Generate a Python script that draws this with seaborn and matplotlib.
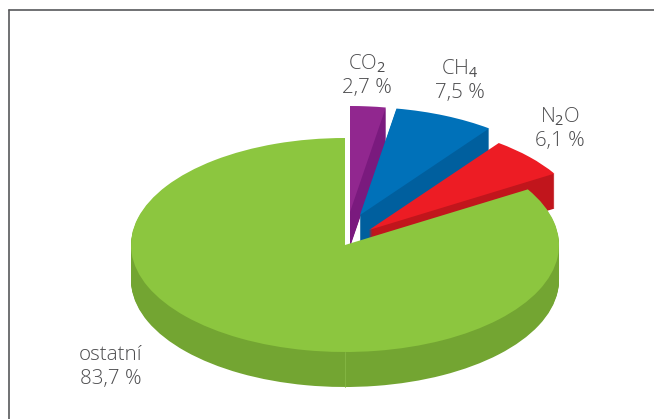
import matplotlib
matplotlib.use("Agg")
import matplotlib.pyplot as plt
from matplotlib.lines import Line2D
from matplotlib.patches import Polygon
import seaborn as sns

sns.set_theme(style="white")
plt.rcParams['font.family'] = ['Open Sans', 'DejaVu Sans']
plt.rcParams['mathtext.fontset'] = 'custom'
plt.rcParams['mathtext.rm'] = 'Open Sans'

categories = ["ostatní", "N2O", "CH4", "CO2"]
values = [83.7, 6.1, 7.5, 2.7]
labels = ["ostatní\n83,7 %", "N$_{\\mathrm{2}}$O\n6,1 %", "CH$_{\\mathrm{4}}$\n7,5 %", "CO$_{\\mathrm{2}}$\n2,7 %"]

top_colors = sns.color_palette(["#8CC63F", "#ED1C24", "#0071B9", "#91278F"])
wall_colors = sns.color_palette(["#73A532", "#C1151C", "#005F9E", "#7A1A7E"])

W, H = 654, 419
Y = lambda py: 2 * (H - py)

# apex (px) and radius of each slice in the tilted view
apex = {"ostatní": (345, 245, 214), "N2O": (369, 230, 217), "CH4": (360, 215, 216), "CO2": (350, 212, 212)}
label_pos = {"ostatní": (111, 367), "N2O": (560, 128), "CH4": (460, 80), "CO2": (367, 75)}
depth = 35

fig = plt.figure(figsize=(W / 100, H / 100), dpi=100, facecolor="white")
ax = fig.add_axes([0, 0, 1, 1])


def slice_at(value, start, color, cx, cy, r):
    wedges, _ = ax.pie([value, 100 - value], startangle=start, colors=[color, "none"],
                       center=(cx, Y(cy)), radius=r, wedgeprops={"linewidth": 0}, normalize=True)
    return wedges[0]


starts = {}
a = 90.0
for c, v in zip(categories, values):
    starts[c] = a
    a += v * 3.6

for i in [3, 2, 1, 0]:
    c, v = categories[i], values[i]
    cx, cy, r = apex[c]
    for d in range(depth, 0, -1):
        w = slice_at(v, starts[c], wall_colors[i], cx, cy + d, r)
        if c == "CO2":
            # the purple side narrows to a point at the outer rim
            clip = Polygon([(cx - 2, Y(cy - 110)), (cx + 36, Y(cy - 110)), (cx + 3, Y(cy + 32)), (cx - 2, Y(cy + 32))],
                           transform=ax.transData)
            w.set_clip_path(clip)
    slice_at(v, starts[c], top_colors[i], cx, cy, r)

ax.plot([345, 345], [Y(352), Y(387)], color="#86B844", lw=0.6, zorder=5)

for i, c in enumerate(categories):
    x, y = label_pos[c]
    ax.text(x, Y(y), labels[i], ha="center", va="center", fontsize=14.8, color="#4D4D4F",
            linespacing=1.22, fontweight="light", zorder=6)

ax.set_xlim(0, W)
ax.set_ylim(0, 2 * H)
ax.set_aspect("auto")
ax.set_axis_off()

fig.add_artist(Line2D([9 / W, 9 / W], [0, 1 - 10.5 / H], color="#58595B", lw=1.2))
fig.add_artist(Line2D([9 / W, 1], [1 - 10.5 / H, 1 - 10.5 / H], color="#58595B", lw=1.2))

fig.savefig("out.png", dpi=100)
